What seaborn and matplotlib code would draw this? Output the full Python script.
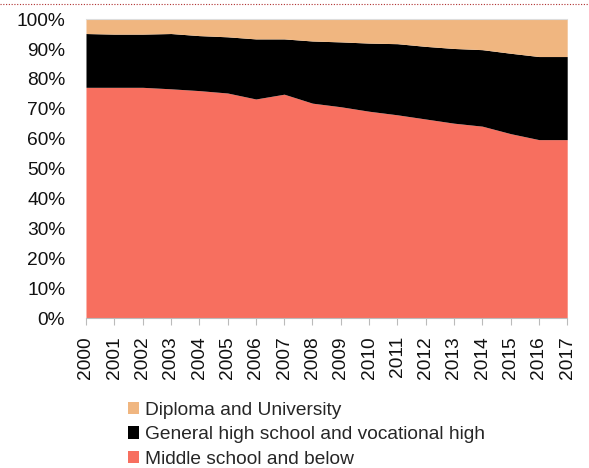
import matplotlib
matplotlib.use("Agg")
import matplotlib.pyplot as plt
import seaborn as sns
import numpy as np
from matplotlib.lines import Line2D
from matplotlib.patches import Patch
from matplotlib.ticker import FuncFormatter, MultipleLocator

years = list(range(2000, 2018))
# top boundary of the "high school" band (100 - diploma share)
upper_hs = [95.2, 95.0, 95.0, 95.2, 94.5, 94.1, 93.4, 93.4, 92.7, 92.4,
            92.0, 91.8, 90.9, 90.2, 89.8, 88.6, 87.5, 87.5]
middle_school = [77.2, 77.2, 77.2, 76.7, 76.1, 75.3, 73.3, 74.9, 71.9, 70.7,
                 69.2, 68.0, 66.6, 65.2, 64.2, 61.7, 59.7, 59.7]
high_school = [u - m for u, m in zip(upper_hs, middle_school)]
diploma = [100 - u for u in upper_hs]

labels = ["Middle school and below",
          "General high school and vocational high",
          "Diploma and University"]
colors = ["#F76F5F", "#000000", "#F0B680"]

sns.set_theme(style="white")
plt.rcParams['font.family'] = ['Liberation Sans', 'DejaVu Sans']

fig = plt.figure(figsize=(5.89, 4.68), dpi=100)
ax = fig.add_axes([0.146, 0.3205, 0.817, 0.6385])

ax.stackplot(years, middle_school, high_school, diploma,
             colors=colors, linewidth=0, zorder=2)

ax.set_xlim(2000, 2017)
ax.set_ylim(0, 100)
ax.yaxis.set_major_locator(MultipleLocator(10))
ax.yaxis.set_major_formatter(FuncFormatter(lambda v, p: f"{int(round(v))}%"))
ax.set_xticks(years)
ax.set_xticklabels([str(y) for y in years], rotation=90)

ax.tick_params(axis='y', length=0, pad=15, labelsize=13.8, labelcolor='#111111')
ax.tick_params(axis='x', length=5, width=0.8, color='#BBBBBB', pad=8,
               labelsize=13.8, labelcolor='#111111', bottom=True)

for s in ['left', 'right']:
    ax.spines[s].set_visible(False)
ax.spines['top'].set_color('#DDDDDD')
ax.spines['top'].set_linewidth(0.8)
ax.spines['bottom'].set_color('#BBBBBB')
ax.spines['bottom'].set_linewidth(0.8)

handles = [Patch(facecolor=c, edgecolor='none') for c in colors][::-1]
fig.legend(handles, labels[::-1], loc='upper left',
           bbox_to_anchor=(0.217, 0.142), frameon=False,
           fontsize=13.8, handlelength=0.6, handleheight=0.6,
           handletextpad=0.3, labelspacing=0.40, borderaxespad=0,
           borderpad=0)

fig.add_artist(Line2D([0, 1], [0.991, 0.991], transform=fig.transFigure,
                      color='#B03030', linestyle=(0, (1, 1.5)), linewidth=0.8))

fig.savefig("out.png", dpi=100)
